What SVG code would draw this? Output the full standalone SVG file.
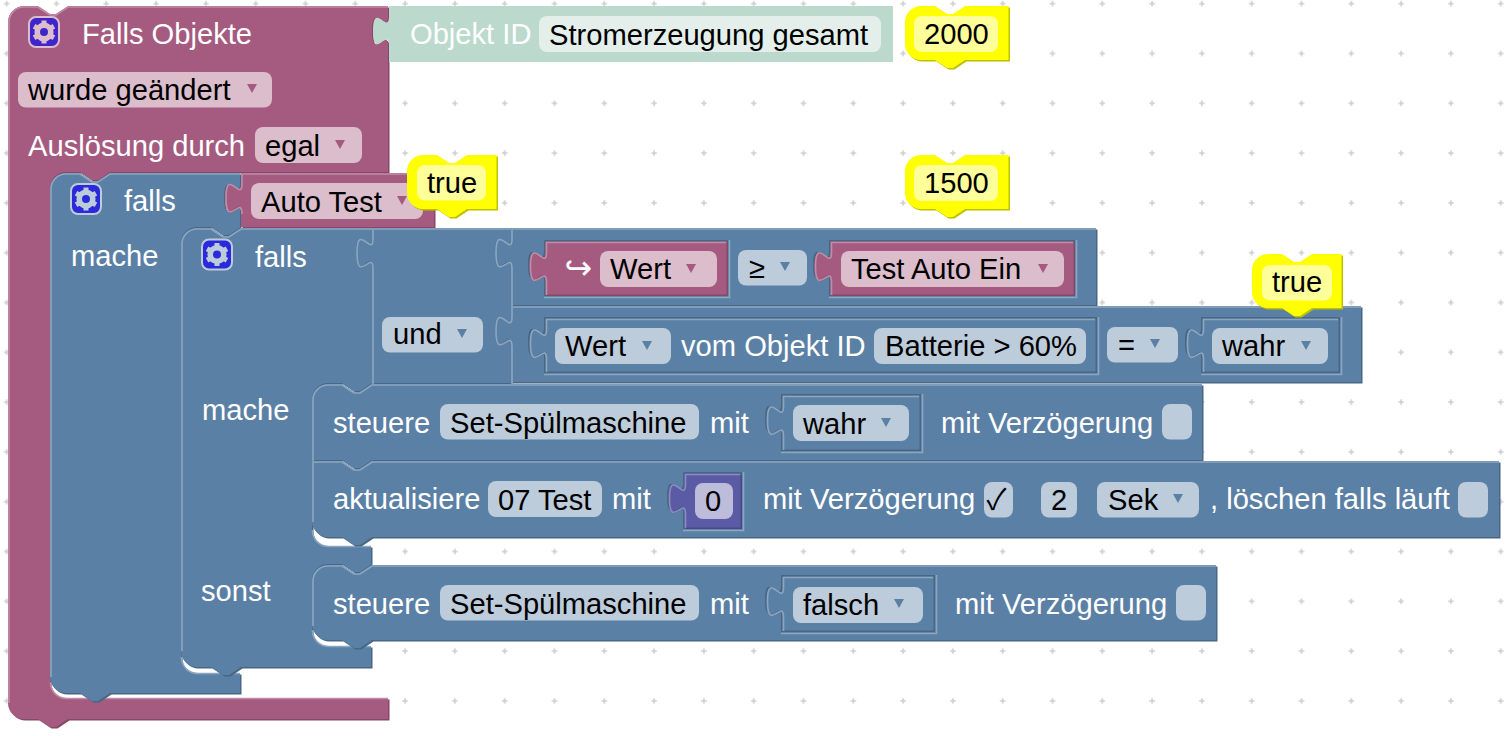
<svg xmlns="http://www.w3.org/2000/svg" width="1509" height="736" viewBox="0 0 1509 736">
<style>
text{font-family:"Liberation Sans",Arial,sans-serif;font-size:29.15px;fill:#fff;transform:translateY(.7px)}
text.k{fill:#000}
text.sym{font-family:"DejaVu Sans",sans-serif;font-size:33px}
text.chk{font-family:"Noto Sans CJK JP",sans-serif}
.yel text{transform:none}
.m{fill-rule:evenodd}
.d{fill-rule:nonzero}
.l{fill:none;stroke-width:1.6}
.blue .m{fill:#5b80a5}.blue .d{fill:#496684}.blue .l{stroke:#8ca6c0}.blue rect.f{fill:#bdccdb}.blue .a{fill:#5b80a5}
.pur .m{fill:#a55b80}.pur .d{fill:#844966}.pur .l{stroke:#c08da6}.pur rect.f{fill:#dbbdcc}.pur .a{fill:#a55b80}
.ind .m{fill:#5b5ba5}.ind .d{fill:#494984}.ind .l{stroke:#8c8cc0}.ind rect.f{fill:#bdbddb}
.yel .m{fill:#ff0}.yel .d{fill:#c0c000}.yel rect.f{fill:#ff9}
.grn .m{fill:#bcd9ce}.grn rect.f{fill:#e4efeb}
.i1{fill:#3f25cb;color:#dbbdcc}.i2{fill:#2a2adc;color:#bdccdb}
</style>
<defs>
<pattern id="grid" x="-18.2" y="-21.2" width="49.8" height="49.8" patternUnits="userSpaceOnUse"><path d="M22.2,24.9H27.6M24.9,22.2V27.6" stroke="#ccc" stroke-width="1.5" fill="none"/></pattern>
<path id="arrow" d="M0,0H10L5,9Z"/>
<g id="gear"><rect x="-15" y="-15" width="30" height="30" rx="7" stroke="currentColor" stroke-width="2"/><circle r="6.8" fill="none" stroke="currentColor" stroke-width="5.6"/><path d="M0,-8V-11.5M6.93,-4L9.96,-5.75M6.93,4L9.96,5.75M0,8V11.5M-6.93,4L-9.96,5.75M-6.93,-4L-9.96,-5.75" fill="none" stroke="currentColor" stroke-width="5"/></g>
<path id="p-hat" d="M8,22a16,16 0 0 1 16,-16H38l12,8 6,0 12,-8H388V16c0,20 -16,-16 -16,15s16,-5 16,15V172H110l-12,8 -6,0 -12,-8H66a16,16 0 0 0 -16,16V682a16,16 0 0 0 16,16H388V719H68l-12,8 -6,0 -12,-8H24a16,16 0 0 1 -16,-16Z"/>
<path id="p-falls1" d="M50,189a16,16 0 0 1 16,-16H80l12,8 6,0 12,-8H240V183c0,20 -16,-16 -16,15s16,-5 16,15V227H241l-12,8 -6,0 -12,-8H197a16,16 0 0 0 -16,16V657a16,16 0 0 0 16,16H240V693H110l-12,8 -6,0 -12,-8H66a16,16 0 0 1 -16,-16Z"/>
<path id="p-auto" d="M241,213c0,-20 -16,16 -16,-15s16,5 16,-15V173H434V227H241Z"/>
<path id="p-falls2" d="M181,244a16,16 0 0 1 16,-16H211l12,8 6,0 12,-8H372V238c0,20 -16,-16 -16,15s16,-5 16,15V383l-12,8 -6,0 -12,-8H328a16,16 0 0 0 -16,16V530a16,16 0 0 0 16,16H371V564H372l-12,8 -6,0 -12,-8H328a16,16 0 0 0 -16,16V630a16,16 0 0 0 16,16H371V667H241l-12,8 -6,0 -12,-8H197a16,16 0 0 1 -16,-16Z"/>
<path id="p-und" d="M372,268c0,-20 -16,16 -16,-15s16,5 16,-15V228H511V238c0,20 -16,-16 -16,15s16,-5 16,15V316c0,20 -16,-16 -16,15s16,-5 16,15V383H372Z"/>
<path id="p-cmp1" d="M511,268c0,-20 -16,16 -16,-15s16,5 16,-15V228H1096V305H511ZM728,240V296H544V280c0,-20 -16,16 -16,-15s16,5 16,-15V240ZM1075,240V296H829V280c0,-20 -16,16 -16,-15s16,5 16,-15V240Z"/>
<path id="p-wert" d="M545.5,281.5c0,-20 -16,16 -16,-15s16,5 16,-15V241.5H726.5V294.5H545.5Z"/>
<path id="p-test" d="M830.5,281.5c0,-20 -16,16 -16,-15s16,5 16,-15V241.5H1073.5V294.5H830.5Z"/>
<path id="p-cmp2" d="M511,346c0,-20 -16,16 -16,-15s16,5 16,-15V306H1361V382H511ZM1097,317V373H544V357c0,-20 -16,16 -16,-15s16,5 16,-15V317ZM1340,317V373H1201V357c0,-20 -16,16 -16,-15s16,5 16,-15V317Z"/>
<path id="p-obj" d="M545.5,358.5c0,-20 -16,16 -16,-15s16,5 16,-15V318.5H1095.5V371.5H545.5Z"/>
<path id="p-wahr1" d="M1202.5,358.5c0,-20 -16,16 -16,-15s16,5 16,-15V318.5H1338.5V371.5H1202.5Z"/>
<path id="p-st1" d="M312,400a16,16 0 0 1 16,-16H342l12,8 6,0 12,-8H1202V460H372l-12,8 -6,0 -12,-8H312ZM921,394V451H781V434c0,-20 -16,16 -16,-15s16,5 16,-15V394Z"/>
<path id="p-wahr2" d="M782.5,435.5c0,-20 -16,16 -16,-15s16,5 16,-15V395.5H919.5V449.5H782.5Z"/>
<path id="p-akt" d="M312,461H342l12,8 6,0 12,-8H1499V537H372l-12,8 -6,0 -12,-8H328a16,16 0 0 1 -16,-16ZM742,472V529H683V512c0,-20 -16,16 -16,-15s16,5 16,-15V472Z"/>
<path id="p-zero" d="M684.5,513.5c0,-20 -16,16 -16,-15s16,5 16,-15V473.5H740.5V527.5H684.5Z"/>
<path id="p-st2" d="M312,581a16,16 0 0 1 16,-16H342l12,8 6,0 12,-8H1216V640H372l-12,8 -6,0 -12,-8H328a16,16 0 0 1 -16,-16ZM935,575V632H781V615c0,-20 -16,16 -16,-15s16,5 16,-15V575Z"/>
<path id="p-falsch" d="M782.5,616.5c0,-20 -16,16 -16,-15s16,5 16,-15V576.5H933.5V630.5H782.5Z"/>
<path id="p-y104" d="M905,22a16,16 0 0 1 16,-16H935l12,8 6,0 12,-8H1008.5V60H965l-12,8 -6,0 -12,-8H921a16,16 0 0 1 -16,-16Z"/>
<path id="p-y90" d="M407,171a16,16 0 0 1 16,-16H437l12,8 6,0 12,-8H496.5V209H467l-12,8 -6,0 -12,-8H423a16,16 0 0 1 -16,-16Z"/>
</defs>
<rect width="1509" height="736" fill="#fff"/>
<rect width="1509" height="736" fill="url(#grid)"/>

<g id="block-falls-objekte" class="pur">
<use href="#p-hat" class="d" transform="translate(1.5,1.5)"/><use href="#p-hat" class="m"/>
<path class="l" d="M9,703V22a15,15 0 0 1 15,-15H38l12,8 6,0 12,-8H388M50.5,682a16,16 0 0 0 16,16.5H388"/>
<use href="#gear" class="i1" transform="translate(44,32)"/>
<text x="82" y="43">Falls Objekte</text>
<rect class="f" x="18" y="72" width="254" height="35.500" rx="8"/><text class="k" x="28" y="99">wurde geändert</text><use href="#arrow" class="a" x="247" y="84"/>
<text x="28" y="155">Auslösung durch</text>
<rect class="f" x="255" y="127" width="107" height="36" rx="8"/><text class="k" x="265" y="155">egal</text><use href="#arrow" class="a" x="335" y="140"/>
</g>
<g id="block-objekt-id" class="grn">
<path class="m" d="M389,46c0,-20 -16,16 -16,-15s16,5 16,-15V6H893V62H389Z"/>
<text x="410" y="43">Objekt ID</text>
<rect class="f" x="539" y="16" width="342" height="36" rx="8"/><text class="k" x="549" y="44">Stromerzeugung gesamt</text>
</g>
<g id="block-falls-1" class="blue">
<use href="#p-falls1" class="d" transform="translate(1.500,1.500)"/><use href="#p-falls1" class="m"/>
<path class="l" d="M51,677V189a15,15 0 0 1 15,-15H80l12,8 6,0 12,-8H240M181.500,657a16,16 0 0 0 16,16.500H240"/>
<use href="#gear" class="i2" transform="translate(86,199)"/>
<text x="124" y="210">falls</text>
<text x="71" y="265">mache</text>
</g>
<g id="block-auto-test" class="pur">
<use href="#p-auto" class="d" transform="translate(1.500,1.500)"/><use href="#p-auto" class="m"/>
<path class="l" d="M242,214c0,-20 -16,16 -16,-16s16,5 16,-14V174H434"/>
<rect class="f" x="251" y="183" width="172" height="36" rx="8"/><text class="k" x="261" y="211">Auto Test</text><use href="#arrow" class="a" x="397" y="196"/>
</g>
<g id="block-falls-2" class="blue">
<use href="#p-falls2" class="d" transform="translate(1.500,1.500)"/><use href="#p-falls2" class="m"/>
<path class="l" d="M182,651V244a15,15 0 0 1 15,-15H211l12,8 6,0 12,-8H372M312.500,530a16,16 0 0 0 16,16.500H371M312.500,630a16,16 0 0 0 16,16.500H371"/>
<use href="#gear" class="i2" transform="translate(217,254.500)"/>
<text x="255" y="266">falls</text>
<text x="202" y="419">mache</text>
<text x="201" y="600">sonst</text>
</g>
<g id="block-und" class="blue">
<use href="#p-und" class="d" transform="translate(1.500,1.500)"/><use href="#p-und" class="m"/>
<path class="l" d="M373,384V269c0,-20 -16,16 -16,-16s16,5 16,-14V229H511"/>
<rect class="f" x="382" y="317" width="101" height="35.500" rx="8"/><text class="k" x="393" y="343">und</text><use href="#arrow" class="a" x="457" y="329"/>
</g>
<g id="block-vergleich-1" class="blue">
<use href="#p-cmp1" class="d" transform="translate(1.500,1.500)"/><use href="#p-cmp1" class="m"/>
<path class="l" d="M512,306V269c0,-20 -16,16 -16,-16s16,5 16,-14V229H1096M729.500,240V297.500H544M1076.500,240V297.500H829"/>
<rect class="f" x="738" y="250" width="69" height="35.500" rx="8"/><text class="k" x="749" y="277">≥</text><use href="#arrow" class="a" x="780" y="262"/>
</g>
<g id="block-wert" class="pur">
<use href="#p-wert" class="d" transform="translate(1.500,1.500)"/><use href="#p-wert" class="m"/>
<path class="l" d="M546.500,295V282.500c0,-20 -16,16 -16,-16s16,5 16,-14V242.500H726"/>
<text class="sym" x="564.500" y="278">↪</text>
<rect class="f" x="600" y="251" width="117" height="36" rx="8"/><text class="k" x="610" y="278">Wert</text><use href="#arrow" class="a" x="686" y="264"/>
</g>
<g id="block-test-auto-ein" class="pur">
<use href="#p-test" class="d" transform="translate(1.500,1.500)"/><use href="#p-test" class="m"/>
<path class="l" d="M831.500,295V282.500c0,-20 -16,16 -16,-16s16,5 16,-14V242.500H1073"/>
<rect class="f" x="841" y="251" width="223" height="36" rx="8"/><text class="k" x="851" y="278">Test Auto Ein</text><use href="#arrow" class="a" x="1038" y="264"/>
</g>
<g id="block-vergleich-2" class="blue">
<use href="#p-cmp2" class="d" transform="translate(1.500,1.500)"/><use href="#p-cmp2" class="m"/>
<path class="l" d="M512,384V347c0,-20 -16,16 -16,-16s16,5 16,-14V307H1361M1098.500,317V374.500H544M1341.500,317V374.500H1201"/>
<rect class="f" x="1107" y="327" width="71" height="35.500" rx="8"/><text class="k" x="1118" y="354">=</text><use href="#arrow" class="a" x="1150" y="339"/>
</g>
<g id="block-wert-objekt" class="blue">
<use href="#p-obj" class="d" transform="translate(1.500,1.500)"/><use href="#p-obj" class="m"/>
<path class="l" d="M546.500,372V359.500c0,-20 -16,16 -16,-16s16,5 16,-14V319.500H1095"/>
<rect class="f" x="555" y="328" width="116" height="36" rx="8"/><text class="k" x="565" y="355">Wert</text><use href="#arrow" class="a" x="642" y="341"/>
<text x="681" y="355">vom Objekt ID</text>
<rect class="f" x="874" y="328" width="212" height="36" rx="8"/><text class="k" x="885" y="355">Batterie &gt; 60%</text>
</g>
<g id="block-wahr-1" class="blue">
<use href="#p-wahr1" class="d" transform="translate(1.500,1.500)"/><use href="#p-wahr1" class="m"/>
<path class="l" d="M1203.500,372V359.500c0,-20 -16,16 -16,-16s16,5 16,-14V319.500H1338"/>
<rect class="f" x="1212" y="328" width="116" height="36" rx="8"/><text class="k" x="1222" y="355">wahr</text><use href="#arrow" class="a" x="1301" y="341"/>
</g>
<g id="block-steuere-1" class="blue">
<use href="#p-st1" class="d" transform="translate(1.500,1.500)"/><use href="#p-st1" class="m"/>
<path class="l" d="M313,461V400a15,15 0 0 1 15,-15H342l12,8 6,0 12,-8H1202M922.500,394V452.500H781"/>
<text x="333" y="432">steuere</text>
<rect class="f" x="440" y="404" width="259" height="35.500" rx="8"/><text class="k" x="450" y="432">Set-Spülmaschine</text>
<text x="710" y="432">mit</text>
<text x="941" y="432">mit Verzögerung</text>
<rect class="f" x="1162" y="404" width="30" height="35.500" rx="8"/>
</g>
<g id="block-wahr-2" class="blue">
<use href="#p-wahr2" class="d" transform="translate(1.500,1.500)"/><use href="#p-wahr2" class="m"/>
<path class="l" d="M783.500,450V436.500c0,-20 -16,16 -16,-16s16,5 16,-14V396.500H919"/>
<rect class="f" x="793" y="405" width="116" height="36" rx="8"/><text class="k" x="803" y="433">wahr</text><use href="#arrow" class="a" x="881" y="418"/>
</g>
<g id="block-aktualisiere" class="blue">
<use href="#p-akt" class="d" transform="translate(1.500,1.500)"/><use href="#p-akt" class="m"/>
<path class="l" d="M313,522V462H342l12,8 6,0 12,-8H1499M743.500,472V530.500H683"/>
<text x="333" y="508">aktualisiere</text>
<rect class="f" x="488" y="481" width="114" height="36" rx="8"/><text class="k" x="498" y="509">07 Test</text>
<text x="612" y="508">mit</text>
<text x="763" y="508">mit Verzögerung</text>
<rect class="f" x="984" y="482" width="29" height="35.500" rx="8"/><text class="k chk" x="986.500" y="509">✓</text>
<rect class="f" x="1041" y="482" width="36" height="35.500" rx="8"/><text class="k" x="1051" y="509">2</text>
<rect class="f" x="1097" y="482" width="102" height="35.500" rx="8"/><text class="k" x="1108" y="509">Sek</text><use href="#arrow" class="a" x="1173" y="494"/>
<text x="1210" y="508">, löschen falls läuft</text>
<rect class="f" x="1458" y="482" width="30" height="35.500" rx="8"/>
</g>
<g id="block-zahl" class="ind">
<use href="#p-zero" class="d" transform="translate(1.500,1.500)"/><use href="#p-zero" class="m"/>
<path class="l" d="M685.500,528V514.500c0,-20 -16,16 -16,-16s16,5 16,-14V474.500H740"/>
<rect class="f" x="695" y="483" width="38" height="36" rx="8"/><text class="k" x="705" y="510">0</text>
</g>
<g id="block-steuere-2" class="blue">
<use href="#p-st2" class="d" transform="translate(1.500,1.500)"/><use href="#p-st2" class="m"/>
<path class="l" d="M313,626V581a15,15 0 0 1 15,-15H342l12,8 6,0 12,-8H1216M936.500,575V633.500H781"/>
<text x="333" y="613">steuere</text>
<rect class="f" x="440" y="585" width="259" height="35.500" rx="8"/><text class="k" x="450" y="613">Set-Spülmaschine</text>
<text x="710" y="613">mit</text>
<text x="955" y="613">mit Verzögerung</text>
<rect class="f" x="1176" y="585" width="30" height="35.500" rx="8"/>
</g>
<g id="block-falsch" class="blue">
<use href="#p-falsch" class="d" transform="translate(1.500,1.500)"/><use href="#p-falsch" class="m"/>
<path class="l" d="M783.500,631V617.500c0,-20 -16,16 -16,-16s16,5 16,-14V577.500H933"/>
<rect class="f" x="793" y="587" width="130" height="36" rx="8"/><text class="k" x="803" y="614">falsch</text><use href="#arrow" class="a" x="894" y="599"/>
</g>
<g id="kommentar-2000" class="yel">
<use href="#p-y104" class="d" transform="translate(1.500,1.500)"/><use href="#p-y104" class="m"/>
<rect class="f" x="914" y="16" width="84" height="36" rx="8"/><text class="k" x="924" y="44">2000</text>
</g>
<g id="kommentar-1500" class="yel">
<use href="#p-y104" class="d" transform="translate(1.500,150.500)"/><use href="#p-y104" class="m" transform="translate(0,149)"/>
<rect class="f" x="914" y="165" width="84" height="36" rx="8"/><text class="k" x="924" y="193">1500</text>
</g>
<g id="kommentar-true-1" class="yel">
<use href="#p-y90" class="d" transform="translate(1.500,1.500)"/><use href="#p-y90" class="m"/>
<rect class="f" x="417" y="165" width="69" height="35.500" rx="8"/><text class="k" x="427" y="193">true</text>
</g>
<g id="kommentar-true-2" class="yel">
<use href="#p-y90" class="d" transform="translate(846.500,100.500)"/><use href="#p-y90" class="m" transform="translate(845,99)"/>
<rect class="f" x="1262" y="265" width="70" height="35.500" rx="8"/><text class="k" x="1272" y="292">true</text>
</g>
</svg>
